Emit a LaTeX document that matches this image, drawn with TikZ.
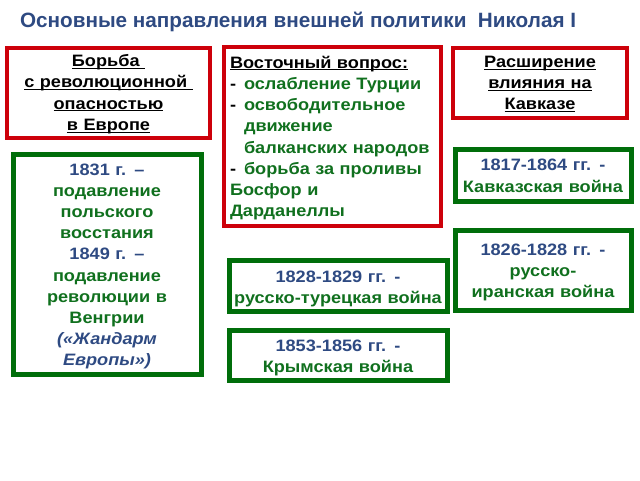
\documentclass[tikz,border=0pt]{standalone}
\usepackage{fontspec}
\setmainfont[FakeStretch=1.1]{Liberation Sans}
\newfontfamily\ttlfont{Liberation Sans}
\definecolor{ttlblue}{RGB}{46,74,130}
\definecolor{boxred}{RGB}{205,0,10}
\definecolor{boxgreen}{RGB}{0,110,10}
\definecolor{txtgreen}{RGB}{16,112,30}
\newcommand{\ulin}[1]{\underline{\smash{#1}}}
\newcommand{\tire}{\makebox[14pt][l]{-}}
\newcommand{\pad}[1]{\rule{0pt}{#1pt}}
\begin{document}
\begin{tikzpicture}[x=1pt,y=-1pt,
  every node/.style={font=\fontsize{16.5}{21.2}\selectfont\bfseries},
  redbox/.style={draw=boxred, line width=4.5pt, inner sep=5pt, align=center},
  greenbox/.style={draw=boxgreen, line width=5pt, inner sep=3pt, align=center, text=txtgreen}]
\useasboundingbox (0,0) rectangle (640,480);

% заголовок
\node [anchor=base west, text=ttlblue, font=\ttlfont\fontsize{20.7}{24}\selectfont\bfseries] (title) at (16.5,27)
  {Основные направления внешней политики \ Николая I};

% направления
\node [redbox, minimum width=203, minimum height=90, text width=190] (europe) at (108.5,93)
  {\pad{13}\ulin{Борьба\ }\\ \ulin{с революционной\ }\\ \ulin{опасностью}\\ \ulin{в Европе}};
\node [redbox, minimum width=217, minimum height=177, text width=205, inner sep=6pt, align=left] (east) at (332.5,136.5)
  {\pad{15.3}\ulin{Восточный вопрос:}\\
   \tire\textcolor{txtgreen}{ослабление Турции}\\
   \tire\textcolor{txtgreen}{освободительное}\\
   \hspace*{14pt}\textcolor{txtgreen}{движение}\\
   \hspace*{14pt}\textcolor{txtgreen}{балканских народов}\\
   \tire\textcolor{txtgreen}{борьба за проливы}\\
   \textcolor{txtgreen}{Босфор и}\\
   \textcolor{txtgreen}{Дарданеллы}};
\node [redbox, minimum width=174, minimum height=70, text width=160] (caucasus) at (540,83)
  {\pad{13}\ulin{Расширение}\\ \ulin{влияния на}\\ \ulin{Кавказе}};

% события
\node [greenbox, minimum width=188, minimum height=220, text width=180] (poland) at (107,264)
  {\pad{16.3}\textcolor{ttlblue}{1831 г. –}\\ подавление\\ польского\\ восстания\\
   \textcolor{ttlblue}{1849 г. –}\\ подавление\\ революции в\\ Венгрии\\
   \textcolor{ttlblue}{\itshape («Жандарм}\\ \textcolor{ttlblue}{\itshape Европы»)}};
\node [greenbox, minimum width=174, minimum height=52, text width=170] (kavkwar) at (543,175)
  {\pad{13.2}\textcolor{ttlblue}{1817-1864 гг. -}\\ Кавказская война};
\node [greenbox, minimum width=174, minimum height=80, text width=170] (iran) at (543,270)
  {\pad{15.9}\textcolor{ttlblue}{1826-1828 гг. -}\\ русско-\\ иранская война};
\node [greenbox, minimum width=216, minimum height=51, text width=212] (turk) at (338,285.5)
  {\pad{17.7}\textcolor{ttlblue}{1828-1829 гг. -}\\ русско-турецкая война};
\node [greenbox, minimum width=216, minimum height=50, text width=212] (crimea) at (338,355)
  {\pad{18}\textcolor{ttlblue}{1853-1856 гг. -}\\ Крымская война};
\end{tikzpicture}
\end{document}
